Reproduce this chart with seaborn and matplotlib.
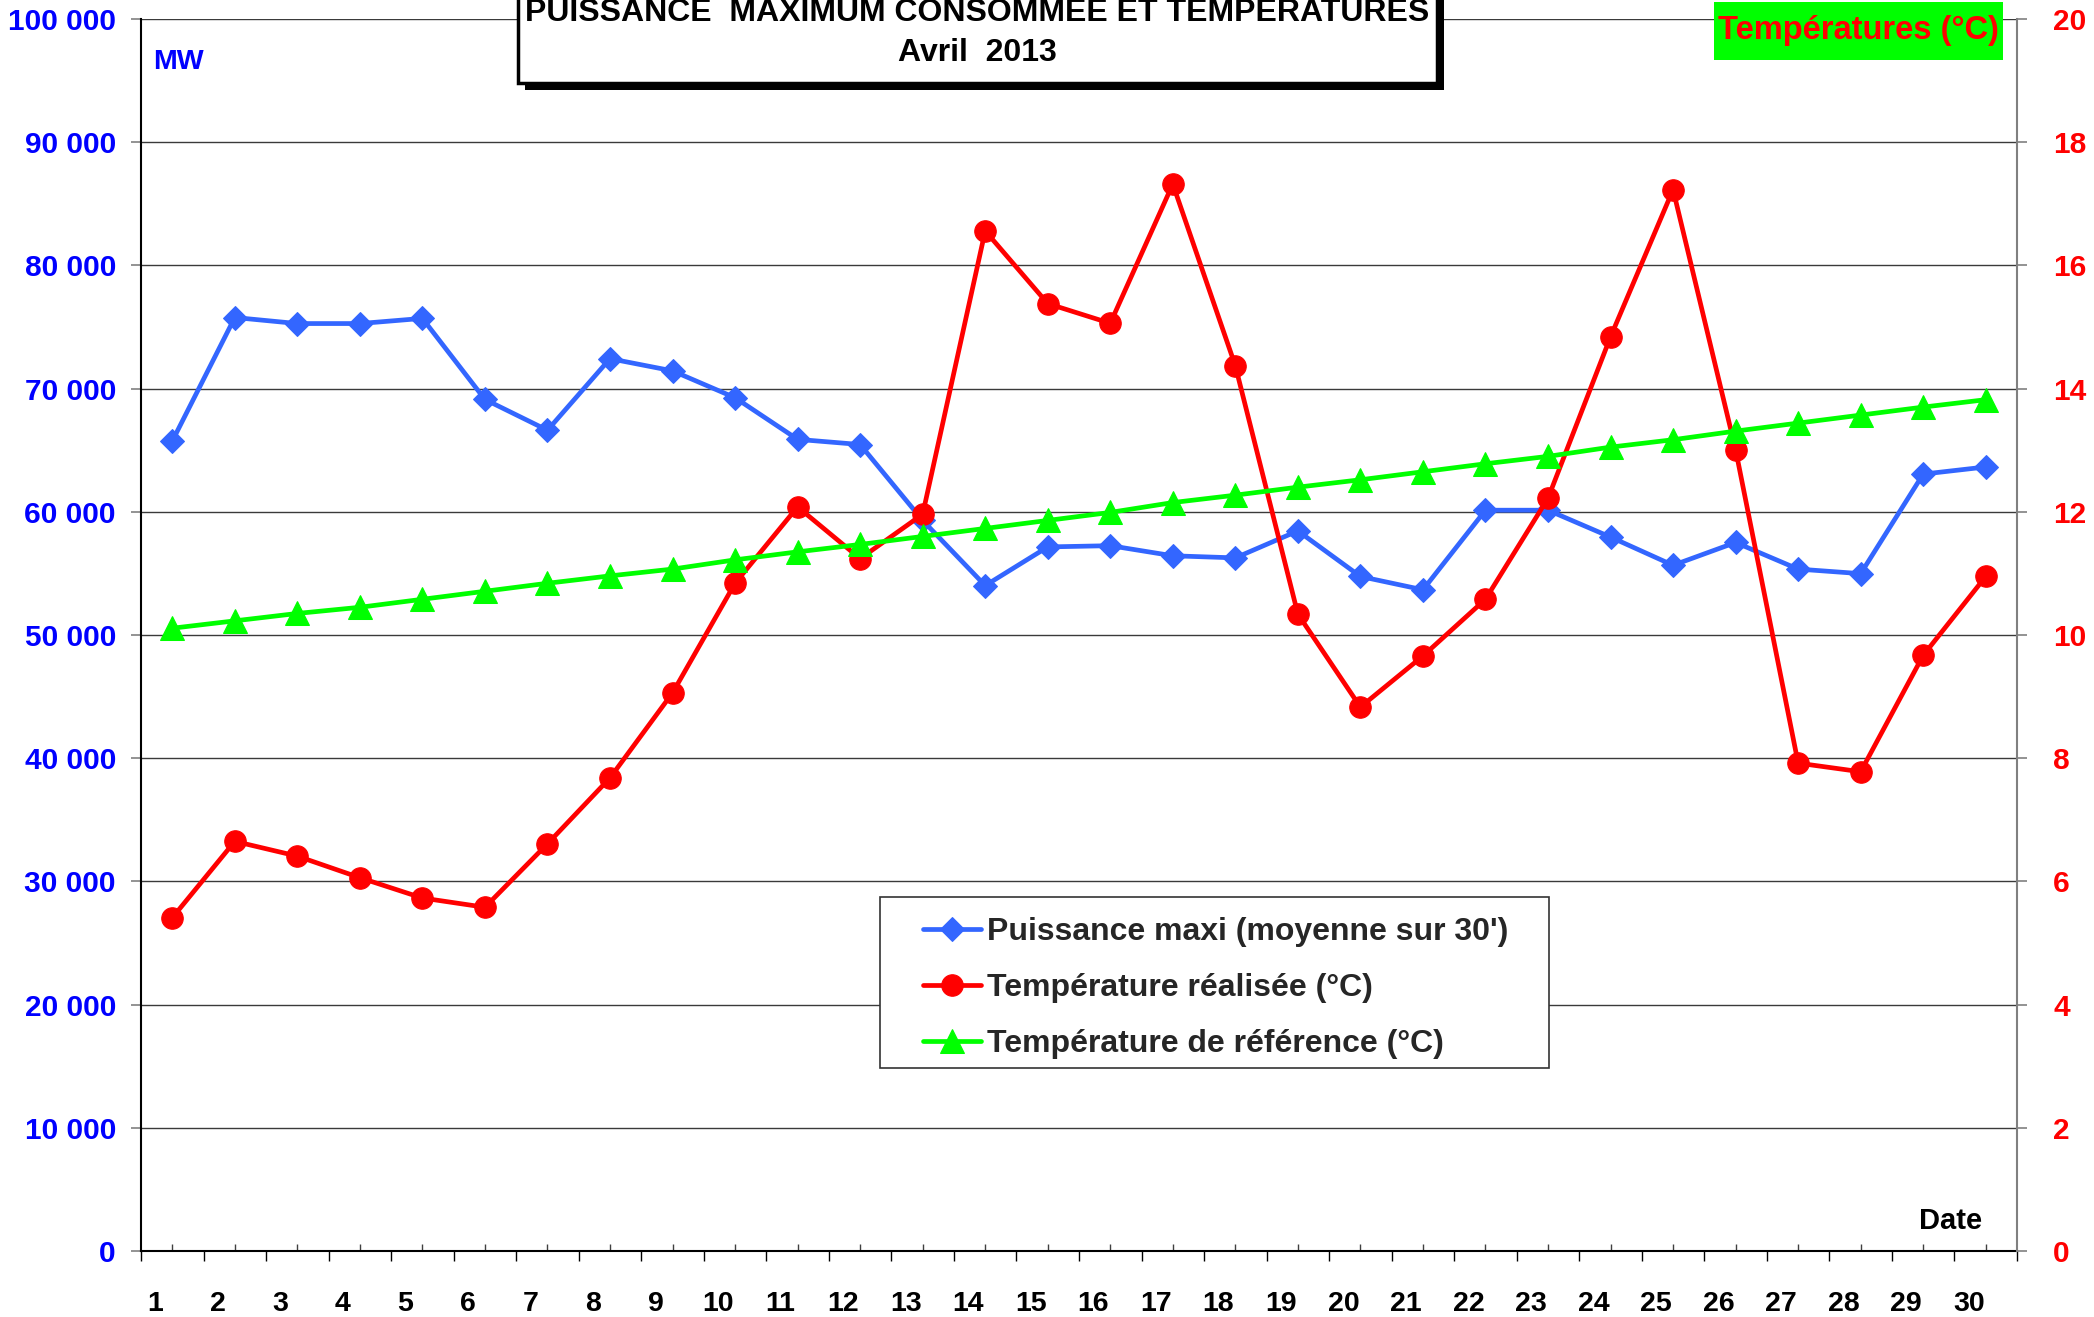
import matplotlib
matplotlib.use('Agg')
import matplotlib.pyplot as plt
import matplotlib.transforms as mtransforms
from matplotlib.patches import Rectangle
from matplotlib.ticker import FixedLocator, FuncFormatter
import numpy as np
import pandas as pd
import seaborn as sns

# ---------------- data ----------------
days = list(range(1, 31))
puissance = [65740, 75770, 75280, 75280, 75700, 69120, 66620, 72430, 71440, 69260,
             65880, 65460, 59300, 54010, 57150, 57250, 56430, 56260, 58450, 54750,
             53670, 60130, 60130, 57950, 55660, 57510, 55350, 54980, 63060, 63640]
temp_realisee = [5.41, 6.65, 6.41, 6.06, 5.73, 5.58, 6.61, 7.68, 9.06, 10.84,
                 12.08, 11.24, 11.96, 16.56, 15.38, 15.06, 17.32, 14.37, 10.34, 8.83,
                 9.66, 10.58, 12.22, 14.84, 17.23, 13.01, 7.92, 7.78, 9.67, 10.95]
temp_reference = [10.11, 10.23, 10.35, 10.45, 10.58, 10.71, 10.84, 10.96, 11.07, 11.22,
                  11.35, 11.47, 11.60, 11.73, 11.86, 11.99, 12.15, 12.27, 12.40, 12.52,
                  12.65, 12.78, 12.90, 13.05, 13.17, 13.31, 13.44, 13.57, 13.70, 13.82]
day_labels = [str(d) for d in days]
mw_ticks = list(range(0, 100001, 10000))
temp_ticks = list(range(0, 21, 2))

label_p = "Puissance maxi (moyenne sur 30')"
label_r = "Température réalisée (°C)"
label_g = "Température de référence (°C)"
title1 = "PUISSANCE  MAXIMUM CONSOMMEE ET TEMPERATURES"
title2 = "Avril  2013"

df = pd.DataFrame({"day": days, "p": puissance, "tr": temp_realisee, "tg": temp_reference})

# ---------------- style ----------------
sns.set_theme(style="white")
plt.rcParams['font.family'] = ['Liberation Sans', 'DejaVu Sans']
plt.rcParams['font.weight'] = 'bold'

W, H = 2094, 1317
fig = plt.figure(figsize=(W / 100, H / 100), dpi=100)
fig.patch.set_facecolor('white')

L, R, T, B = 141, 2017, 19, 1251
ax = fig.add_axes([L / W, 1 - B / H, (R - L) / W, (B - T) / H])
ax2 = ax.twinx()

BLUE = '#3366FF'
RED = '#FF0000'
GREEN = '#00FF00'

sns.lineplot(data=df, x="day", y="p", ax=ax, color=BLUE, linewidth=3.4, marker='D',
             markersize=12.5, markeredgecolor=BLUE, markerfacecolor=BLUE, label=label_p)
sns.lineplot(data=df, x="day", y="tr", ax=ax2, color=RED, linewidth=3.4, marker='o',
             markersize=15.5, markeredgecolor=RED, markerfacecolor=RED, label=label_r, zorder=3)
sns.lineplot(data=df, x="day", y="tg", ax=ax2, color=GREEN, linewidth=3.4, marker='^',
             markersize=17.5, markeredgecolor=GREEN, markerfacecolor=GREEN, label=label_g, zorder=4)

h1, l1 = ax.get_legend_handles_labels()
h2, l2 = ax2.get_legend_handles_labels()
for a in (ax, ax2):
    if a.get_legend() is not None:
        a.get_legend().remove()

# ---------------- axes ----------------
ax.set_xlim(0.5, 30.5)
ax.set_ylim(0, 100000)
ax2.set_ylim(0, 20)
ax.set_xlabel('')
ax.set_ylabel('')
ax2.set_ylabel('')

ax.yaxis.set_major_locator(FixedLocator(mw_ticks))
ax.yaxis.set_major_formatter(FuncFormatter(lambda v, p: f"{int(v):,}".replace(',', ' ')))
ax2.yaxis.set_major_locator(FixedLocator(temp_ticks))

ax.set_xticks(days)
ax.set_xticklabels(day_labels)
ax.set_xticks([d - 0.5 for d in days] + [30.5], minor=True)

ax.grid(False)
ax2.grid(False)
ax.yaxis.grid(True, color='#3a3a3a', linewidth=1.0)
ax.set_axisbelow(True)

ax.spines['top'].set_visible(False)
ax2.spines['top'].set_visible(False)
ax.spines['right'].set_visible(False)
ax2.spines['left'].set_visible(False)
ax2.spines['bottom'].set_visible(False)
ax.spines['left'].set_color('black')
ax.spines['left'].set_linewidth(1.5)
ax.spines['bottom'].set_color('black')
ax.spines['bottom'].set_linewidth(1.5)
ax2.spines['right'].set_color('#808080')
ax2.spines['right'].set_linewidth(1.5)

ax.tick_params(axis='y', which='major', direction='out', length=7, width=1.2, color='#808080',
               pad=11, labelsize=21.5, labelcolor='#0000FF', left=True)
ax2.tick_params(axis='y', which='major', direction='out', length=7, width=1.2, color='#808080',
                pad=19, labelsize=21.5, labelcolor=RED, right=True)
ax.tick_params(axis='x', which='major', direction='in', length=5, width=1, color='#404040',
               pad=29, labelsize=20.5, labelcolor='black', bottom=True)
ax.tick_params(axis='x', which='minor', direction='out', length=7, width=1, color='black', bottom=True)

for lab in ax.get_yticklabels() + ax2.get_yticklabels() + ax.get_xticklabels():
    lab.set_fontweight('bold')
offset = mtransforms.ScaledTranslation(-0.17, 0, fig.dpi_scale_trans)
for lab in ax.get_xticklabels():
    lab.set_transform(lab.get_transform() + offset)

# ---------------- annotations ----------------
ax.text(153 / W, 1 - 69 / H, "MW", transform=fig.transFigure, color='#0000FF',
        fontsize=20.5, fontweight='bold', ha='left', va='baseline')
ax.text(1951 / W, 1 - 1229 / H, "Date", transform=fig.transFigure, color='black',
        fontsize=21, fontweight='bold', ha='center', va='baseline')

# Températures label box (top right)
fig.add_artist(Rectangle((1714 / W, 1 - 60 / H), (2003 - 1714) / W, 58 / H,
                         transform=fig.transFigure, facecolor=GREEN, edgecolor='none', zorder=5))
fig.text(1858 / W, 1 - 31 / H, "Températures (°C)", color=RED, fontsize=23.5,
         fontweight='bold', ha='center', va='center', zorder=6)

# Title box with shadow
bx0, bx1, by1 = 518, 1437, 83
fig.add_artist(Rectangle(((bx0 + 7) / W, 1 - (by1 + 7) / H), (bx1 - bx0) / W, 0.2,
                         transform=fig.transFigure, facecolor='black', edgecolor='none', zorder=5))
fig.add_artist(Rectangle((bx0 / W, 1 - by1 / H), (bx1 - bx0) / W, 0.2,
                         transform=fig.transFigure, facecolor='white', edgecolor='black',
                         linewidth=2.5, zorder=6))
cx = (bx0 + bx1) / 2
fig.text(cx / W, 1 - 21 / H, title1, fontsize=23, fontweight='bold', color='black',
         ha='center', va='baseline', zorder=7)
fig.text(cx / W, 1 - 61 / H, title2, fontsize=23, fontweight='bold', color='black',
         ha='center', va='baseline', zorder=7)

# Legend with its own frame
frame = Rectangle((880 / W, 1 - 1068 / H), (1549 - 880) / W, (1068 - 897) / H,
                  transform=fig.transFigure, facecolor='white', edgecolor='#333333',
                  linewidth=1.2, zorder=10, clip_on=False)
ax2.add_patch(frame)
leg = ax2.legend(h1 + h2, l1 + l2, loc='upper left', bbox_to_anchor=(923 / W, 1 - 917 / H),
                 bbox_transform=fig.transFigure, frameon=False, borderpad=0, borderaxespad=0,
                 handlelength=1.8, handletextpad=0.2, labelspacing=0.82, numpoints=1,
                 prop={'family': 'Liberation Sans', 'weight': 'bold', 'size': 23})
leg.set_zorder(11)

fig.savefig('out.png', dpi=100, facecolor='white')
